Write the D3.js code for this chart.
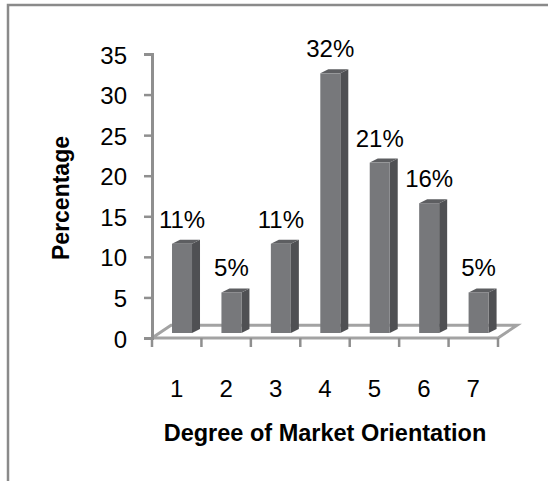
<!DOCTYPE html>
<html>
<head>
<meta charset="utf-8">
<script src="https://cdn.jsdelivr.net/npm/d3@7"></script>
<style>
  html, body { margin: 0; padding: 0; background: #fff; }
  svg { display: block; }
  text { font-family: "Liberation Sans", Arial, sans-serif; fill: #000; }
</style>
</head>
<body>
<svg id="chart" width="548" height="481"></svg>
<script>
// ---- data ----
const categories = ["1", "2", "3", "4", "5", "6", "7"];
const values = [11, 5, 11, 32, 21, 16, 5];
const valueLabels = ["11%", "5%", "11%", "32%", "21%", "16%", "5%"];
const yTicks = [0, 5, 10, 15, 20, 25, 30, 35];
const xTitle = "Degree of Market Orientation";
const yTitle = "Percentage";

(function () {
// ---- layout ----
const svg = d3.select("#chart");
const plotL = 152, plotR = 498, plotT = 54, plotB = 338;
const floorDX = 19, floorDY = -12.7;
const barDX = 8, barDY = -4, barLift = 5, barShift = -4.7, barW = 20;

const x = d3.scaleBand().domain(categories).range([plotL, plotR]).padding(0);
const y = d3.scaleLinear().domain([0, 35]).range([plotB, plotT]);

// frame border
svg.append("rect")
  .attr("x", 8).attr("y", 5).attr("width", 600).attr("height", 600)
  .attr("fill", "none").attr("stroke", "#8a8a8a").attr("stroke-width", 2.5);

const axisColor = "#8f8f8f";

// floor (3D)
const fl = [
  [plotL, plotB], [plotR, plotB],
  [plotR + floorDX, plotB + floorDY], [plotL + floorDX, plotB + floorDY]
];
svg.append("path")
  .attr("d", d3.line()(fl) + "Z")
  .attr("fill", "none").attr("stroke", "#a3a3a3").attr("stroke-width", 3)
  .attr("stroke-linejoin", "miter");

// x axis tick marks at category boundaries
const bounds = categories.map(c => x(c)).concat([x(categories[categories.length - 1]) + x.bandwidth()]);
svg.append("g").selectAll("line").data(bounds).join("line")
  .attr("x1", d => d).attr("x2", d => d)
  .attr("y1", plotB).attr("y2", plotB + 9)
  .attr("stroke", axisColor).attr("stroke-width", 2.5);

// x category labels
const xAxis = svg.append("g")
  .attr("transform", `translate(0,${plotB})`)
  .call(d3.axisBottom(x).tickSize(0).tickPadding(0));
xAxis.select(".domain").remove();
xAxis.selectAll("text")
  .attr("y", 59).attr("dy", 0)
  .style("font-family", '"Liberation Sans", Arial, sans-serif')
  .style("font-size", "24px").attr("fill", "#000");

// y axis
const yAxis = svg.append("g")
  .attr("transform", `translate(${plotL},0)`)
  .call(d3.axisLeft(y).tickValues(yTicks).tickSize(8).tickSizeOuter(8).tickPadding(17));
yAxis.select(".domain").attr("stroke", axisColor).attr("stroke-width", 3);
yAxis.selectAll(".tick line").attr("stroke", axisColor).attr("stroke-width", 2.5);
yAxis.selectAll("text")
  .style("font-family", '"Liberation Sans", Arial, sans-serif')
  .style("font-size", "24px").attr("fill", "#000").attr("dy", "0.38em");

// bars (3D)
const bars = svg.append("g");
categories.forEach((c, i) => {
  const x0 = x(c) + x.bandwidth() / 2 + barShift;
  const x1 = x0 + barW;
  const yb = y(0) - barLift;
  const yt = y(values[i]) - barLift;
  const g = bars.append("g");
  g.append("path")
    .attr("d", d3.line()([[x1, yb], [x1 + barDX, yb + barDY], [x1 + barDX, yt + barDY], [x1, yt]]) + "Z")
    .attr("fill", "#4f5053");
  g.append("path")
    .attr("d", d3.line()([[x0, yt], [x1, yt], [x1 + barDX, yt + barDY], [x0 + barDX, yt + barDY]]) + "Z")
    .attr("fill", "#5d5e61");
  g.append("rect")
    .attr("x", x0).attr("y", yt).attr("width", barW).attr("height", yb - yt)
    .attr("fill", "#77787b");
  g.append("text")
    .attr("x", x0 + barW / 2).attr("y", yt - 16)
    .attr("text-anchor", "middle")
    .style("font-size", "24px")
    .text(valueLabels[i]);
});

// axis titles
svg.append("text")
  .attr("x", 325).attr("y", 441)
  .attr("text-anchor", "middle")
  .style("font-size", "23.5px").style("font-weight", "bold")
  .text(xTitle);

svg.append("text")
  .attr("transform", "translate(69,198) rotate(-90)")
  .attr("text-anchor", "middle")
  .style("font-size", "23px").style("font-weight", "bold")
  .text(yTitle);
})();
</script>
</body>
</html>
